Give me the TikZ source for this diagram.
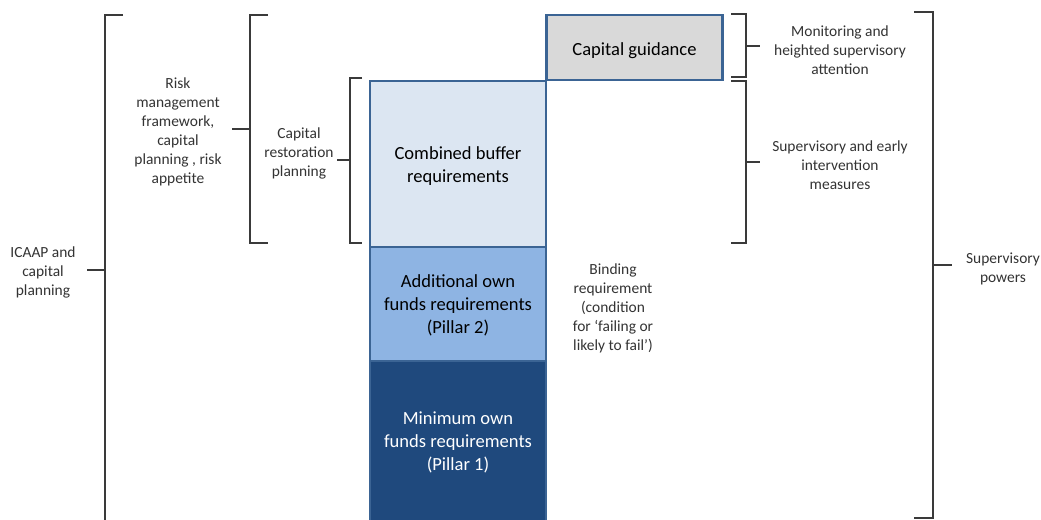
\documentclass[tikz,border=0pt]{standalone}
\usepackage{fontspec}
\setmainfont{Carlito}
\definecolor{boxline}{HTML}{3B6494}
\definecolor{cgfill}{HTML}{D9D9D9}
\definecolor{cbfill}{HTML}{DCE6F2}
\definecolor{p2fill}{HTML}{8EB4E3}
\definecolor{p1fill}{HTML}{1F497D}
\definecolor{brk}{HTML}{3A3A3A}
\definecolor{txt}{HTML}{333333}
\begin{document}
\begin{tikzpicture}[x=0.75pt,y=-0.75pt,
  bracket/.style={draw=brk, line width=1.4pt},
  lbl/.style={align=center, font=\fontsize{11.6}{14.25}\selectfont, text=txt, inner sep=0pt},
  bar/.style={draw=boxline, line width=2pt, minimum width=132pt, inner sep=0pt, align=center,
              font=\fontsize{13.9}{17.25}\selectfont, text=black, text depth=0pt},
  shifted/.style={yshift=-1.5pt}]
\useasboundingbox (0,0) rectangle (1041,520);

% boxes
\node[bar, fill=cgfill, minimum height=48.75pt] (cg) at (634.5,47.5) {\raisebox{-2pt}{Capital guidance}};
\node[bar, fill=cbfill, minimum height=124.5pt] (cb) at (458,164) {\raisebox{-1.5pt}{Combined buffer}\\\raisebox{-1.5pt}{requirements}};
\node[bar, fill=p2fill, minimum height=85.5pt] (p2) at (458,304) {Additional own\\funds requirements\\(Pillar 2)};
\node[bar, fill=p1fill, minimum height=120.75pt, text=white] (p1) at (458,441.5) {Minimum own\\funds requirements\\(Pillar 1)};

% labels
\node[lbl, shifted] (icaap) at (43,270) {ICAAP and\\capital\\planning};
\node[lbl, shifted] (risk) at (178,130) {Risk\\management\\framework,\\capital\\planning , risk\\appetite};
\node[lbl, shifted] (crp) at (299,151.5) {Capital\\restoration\\planning};
\node[lbl, shifted] (bind) at (613,306.5) {Binding\\requirement\\(condition\\for ‘failing or\\likely to fail’)};
\node[lbl, shifted] (mon) at (840,48.5) {Monitoring and\\heighted supervisory\\attention};
\node[lbl, shifted] (sei) at (840,163.5) {Supervisory and early\\intervention\\measures};
\node[lbl, shifted] (sp) at (1003,266.5) {Supervisory\\powers};

% left brackets
\coordinate (b1) at (87,270);
\draw[bracket] (123,15) -- (105,15) -- (105,522);
\draw[bracket] (b1) -- (105,270);
\coordinate (b2) at (232,129);
\draw[bracket] (268,15) -- (250,15) -- (250,243) -- (268,243);
\draw[bracket] (b2) -- (250,129);
\coordinate (b3) at (337,160);
\draw[bracket] (362,78) -- (350,78) -- (350,243) -- (362,243);
\draw[bracket] (b3) -- (350,160);

% right brackets
\coordinate (r1) at (760,46);
\draw[bracket] (731,14) -- (746,14) -- (746,77) -- (731,77);
\draw[bracket] (746,46) -- (r1);
\coordinate (r2) at (760,162);
\draw[bracket] (731,81) -- (746,81) -- (746,243) -- (731,243);
\draw[bracket] (746,162) -- (r2);
\coordinate (r3) at (952,265);
\draw[bracket] (914,12) -- (933,12) -- (933,518) -- (914,518);
\draw[bracket] (933,265) -- (r3);
\end{tikzpicture}
\end{document}
